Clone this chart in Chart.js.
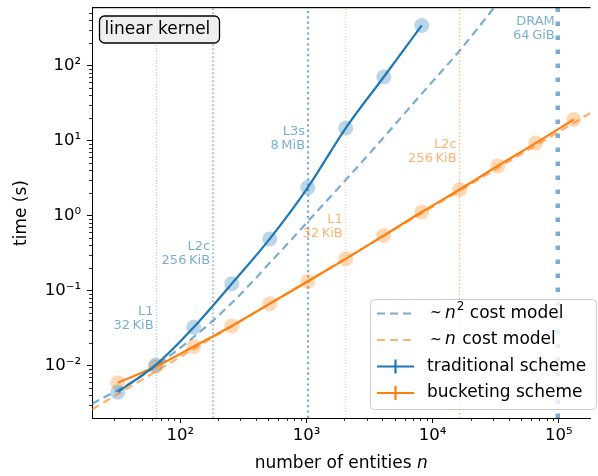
<!DOCTYPE html>
<html>
<head>
<meta charset="utf-8">
<script src="https://cdn.jsdelivr.net/npm/chart.js@4.4.0/dist/chart.umd.min.js"></script>
<style>
  html, body { margin: 0; padding: 0; background: #fff; }
  #wrap { width: 598px; height: 476px; position: relative; }
</style>
</head>
<body>
<div id="wrap"><canvas id="chart"></canvas></div>
<script>
const nTraditional = [32, 64, 128, 256, 512, 1024, 2048, 4096, 8192];
const tTraditional = [0.00443, 0.0102, 0.0324, 0.123, 0.487, 2.35, 14.6, 70, 340];
const nBucketing = [32, 64, 128, 256, 512, 1024, 2048, 4096, 8192, 16384, 32768, 65536, 131072];
const tBucketing = [0.0059, 0.0097, 0.0179, 0.0337, 0.0666, 0.132, 0.264, 0.54, 1.11, 2.22, 4.57, 9.2, 19.0];

// cost models
const nQuadModel = [20, 40, 64, 128, 200, 330, 520, 830, 1024, 2040, 4100, 8200, 16400, 31000];
const tQuadModel = [0.0031, 0.0058, 0.0098, 0.024, 0.046, 0.105, 0.24, 0.56, 0.83, 2.95, 11, 42, 158, 600];
const nLinModel = [20, 180000];
const tLinModel = [0.0026, 23.5];

// memory limits (n where the working set fills the level)
const cacheLevels = ['L1', 'L2c', 'L3s', 'DRAM', 'L1', 'L2c'];
const cacheSizes = ['32\u2009KiB', '256\u2009KiB', '8\u2009MiB', '64\u2009GiB', '32\u2009KiB', '256\u2009KiB'];
const cacheN = [65, 182, 1030, 98000, 2046, 16330];
const cacheLabelT = [0.034, 0.25, 8.4, 250, 0.58, 5.8];
const cacheScheme = ['trad', 'trad', 'trad', 'trad', 'buck', 'buck'];

// axes
const xTicks = [100, 1000, 10000, 100000];
const xTickLabels = ['10²', '10³', '10⁴', '10⁵'];
const yTicks = [0.01, 0.1, 1, 10, 100];
const yTickLabels = ['10⁻²', '10⁻¹', '10⁰', '10¹', '10²'];
const xMin = 20, xMax = 178000, yMin = 0.002, yMax = 590;

const legendLabels = ['cost model', 'cost model', 'traditional scheme', 'bucketing scheme'];

const BLUE = '#1f77b4', ORANGE = '#ff7f0e';
const BLUE_LIGHT = 'rgba(31,119,180,0.6)', ORANGE_LIGHT = 'rgba(255,127,14,0.6)';
const FONT = "'DejaVu Sans', sans-serif";
const TXT = '17px ' + FONT;

const pts = (xs, ys) => xs.map((v, i) => ({x: v, y: ys[i]}));

// vertical memory lines
const lineStyle = {
    trad: [
        {color: 'rgba(31,119,180,0.45)', width: 1, dash: [1, 2]},
        {color: 'rgba(31,119,180,0.6)', width: 1.5, dash: [1.5, 2.5]},
        {color: 'rgba(31,119,180,0.6)', width: 2.2, dash: [2.2, 3.2]},
        {color: 'rgba(31,119,180,0.6)', width: 4.5, dash: [4.5, 9.5]}
    ],
    buck: [
        {color: 'rgba(255,127,14,0.45)', width: 1, dash: [1, 2]},
        {color: 'rgba(255,127,14,0.6)', width: 1.3, dash: [1.3, 2.3]}
    ]
};
const memDatasets = cacheN.map((n, i) => {
    const st = cacheScheme[i] === 'trad' ? lineStyle.trad[i] : lineStyle.buck[i - 4];
    return {
        data: [{x: n, y: yMin}, {x: n, y: yMax}],
        borderColor: st.color, borderWidth: st.width, borderDash: st.dash,
        pointRadius: 0, order: 10
    };
});

const datasets = [
    ...memDatasets,
    {data: pts(nTraditional, tTraditional), showLine: false, pointRadius: 7.5,
     pointBackgroundColor: 'rgba(31,119,180,0.3)', pointBorderWidth: 0, order: 8},
    {data: pts(nBucketing, tBucketing), showLine: false, pointRadius: 7.5,
     pointBackgroundColor: 'rgba(255,127,14,0.3)', pointBorderWidth: 0, order: 8},
    {data: pts(nQuadModel, tQuadModel), borderColor: BLUE_LIGHT, borderWidth: 2.2,
     borderDash: [8, 5], pointRadius: 0, cubicInterpolationMode: 'monotone', order: 6},
    {data: pts(nLinModel, tLinModel), borderColor: ORANGE_LIGHT, borderWidth: 2.2,
     borderDash: [8, 5], pointRadius: 0, order: 6},
    {data: pts(nTraditional, tTraditional), borderColor: BLUE, borderWidth: 2.2,
     pointRadius: 0, cubicInterpolationMode: 'monotone', order: 2},
    {data: pts(nBucketing, tBucketing), borderColor: ORANGE, borderWidth: 2.2,
     pointRadius: 0, cubicInterpolationMode: 'monotone', order: 2}
];

function minorTicks(lo, hi) {
    const out = [];
    for (let e = -4; e <= 6; e++) {
        for (let m = 2; m <= 9; m++) {
            const v = m * Math.pow(10, e);
            if (v > lo && v < hi) out.push(v);
        }
    }
    return out;
}

function roundRect(ctx, x, y, w, h, r) {
    ctx.beginPath();
    ctx.moveTo(x + r, y);
    ctx.arcTo(x + w, y, x + w, y + h, r);
    ctx.arcTo(x + w, y + h, x, y + h, r);
    ctx.arcTo(x, y + h, x, y, r);
    ctx.arcTo(x, y, x + w, y, r);
    ctx.closePath();
}

const overlay = {
    id: 'overlay',
    afterDraw(chart) {
        const {ctx, chartArea: a, scales: {x, y}} = chart;
        ctx.save();

        // minor ticks
        ctx.strokeStyle = '#000';
        ctx.lineWidth = 0.8;
        ctx.beginPath();
        minorTicks(xMin, xMax).forEach(v => {
            const px = Math.round(x.getPixelForValue(v)) + 0.5;
            ctx.moveTo(px, a.bottom); ctx.lineTo(px, a.bottom + 3);
        });
        minorTicks(yMin, yMax).forEach(v => {
            const py = Math.round(y.getPixelForValue(v)) + 0.5;
            ctx.moveTo(a.left, py); ctx.lineTo(a.left - 3, py);
        });
        ctx.stroke();

        // top spine
        ctx.fillStyle = '#000';
        ctx.fillRect(a.left, Math.round(a.top) - 1, a.right - a.left, 1.2);

        // memory labels
        ctx.font = '13px ' + FONT;
        ctx.textAlign = 'right';
        ctx.textBaseline = 'middle';
        cacheN.forEach((n, i) => {
            ctx.fillStyle = cacheScheme[i] === 'trad' ? 'rgba(31,119,180,0.6)' : 'rgba(255,127,14,0.6)';
            const px = x.getPixelForValue(n) - 3;
            const py = y.getPixelForValue(cacheLabelT[i]);
            ctx.fillText(cacheLevels[i], px, py - 14);
            ctx.fillText(cacheSizes[i], px, py);
        });

        // kernel box
        ctx.font = TXT;
        ctx.textAlign = 'left';
        roundRect(ctx, a.left + 7.5, a.top + 8.5, 120, 27, 5);
        ctx.fillStyle = '#efefef';
        ctx.fill();
        ctx.lineWidth = 1.3;
        ctx.strokeStyle = '#000';
        ctx.stroke();
        ctx.fillStyle = '#000';
        ctx.fillText('linear kernel', a.left + 12.5, a.top + 22);

        // legend
        const lx = 370.5, ly = 299.5, lw = 226, lh = 110;
        roundRect(ctx, lx, ly, lw, lh, 4);
        ctx.fillStyle = 'rgba(255,255,255,0.8)';
        ctx.fill();
        ctx.strokeStyle = '#cccccc';
        ctx.lineWidth = 1;
        ctx.stroke();
        const rows = [313.5, 340, 366.5, 393];
        const handles = [
            {c: BLUE_LIGHT, dash: [8, 5], err: false},
            {c: ORANGE_LIGHT, dash: [8, 5], err: false},
            {c: BLUE, dash: [], err: true},
            {c: ORANGE, dash: [], err: true}
        ];
        handles.forEach((h, i) => {
            const ry = rows[i];
            ctx.strokeStyle = h.c;
            ctx.lineWidth = 2.2;
            ctx.setLineDash(h.dash);
            ctx.beginPath();
            ctx.moveTo(377, ry); ctx.lineTo(414, ry);
            ctx.stroke();
            if (h.err) {
                ctx.setLineDash([]);
                ctx.beginPath();
                ctx.moveTo(395.5, ry - 7); ctx.lineTo(395.5, ry + 7);
                ctx.stroke();
            }
        });
        ctx.setLineDash([]);
        ctx.fillStyle = '#000';
        ctx.textBaseline = 'middle';
        // model rows with math n
        [0, 1].forEach(i => {
            const ry = rows[i];
            ctx.font = '14px ' + FONT;
            ctx.fillText('~', 430, ry);
            let cx = 445;
            ctx.font = 'italic ' + TXT;
            ctx.fillText('n', cx, ry);
            cx += ctx.measureText('n').width + 1;
            if (i === 0) {
                ctx.font = '12px ' + FONT;
                ctx.fillText('2', cx, ry - 7);
                cx += ctx.measureText('2').width;
            }
            ctx.font = TXT;
            cx += ctx.measureText(' ').width;
            ctx.fillText(legendLabels[i], cx, ry);
        });
        ctx.font = TXT;
        ctx.fillText(legendLabels[2], 427, rows[2]);
        ctx.fillText(legendLabels[3], 427, rows[3]);

        // axis titles
        const t1 = 'number of entities ';
        ctx.font = 'italic ' + TXT;
        const wn = ctx.measureText('n').width;
        ctx.font = TXT;
        const w1 = ctx.measureText(t1).width;
        const sx = (a.left + a.right) / 2 - (w1 + wn) / 2;
        ctx.fillText(t1, sx, 464);
        ctx.font = 'italic ' + TXT;
        ctx.fillText('n', sx + w1, 464);

        ctx.font = TXT;
        ctx.translate(22, 213);
        ctx.rotate(-Math.PI / 2);
        ctx.textAlign = 'center';
        ctx.fillText('time (s)', 0, 0);
        ctx.restore();
    }
};

new Chart(document.getElementById('chart'), {
    type: 'line',
    data: {datasets: datasets},
    options: {
        responsive: true,
        maintainAspectRatio: false,
        animation: false,
        layout: {padding: {top: 7, right: 0, left: 0, bottom: 0}},
        plugins: {legend: {display: false}, tooltip: {enabled: false}},
        elements: {line: {tension: 0}},
        scales: {
            x: {
                type: 'logarithmic', min: xMin, max: xMax,
                afterBuildTicks: s => { s.ticks = xTicks.map(v => ({value: v})); },
                afterFit: s => { s.height = 58; s.paddingLeft = 0; s.paddingRight = 0; },
                ticks: {
                    callback: (v, i) => xTickLabels[i],
                    color: '#000', font: {family: FONT, size: 16.5}, padding: 3,
                    maxRotation: 0, autoSkip: false
                },
                grid: {drawOnChartArea: false, tickLength: 5, color: '#000', lineWidth: 1},
                border: {color: '#000', width: 1}
            },
            y: {
                type: 'logarithmic', min: yMin, max: yMax,
                afterBuildTicks: s => { s.ticks = yTicks.map(v => ({value: v})); },
                afterFit: s => { s.width = 92; s.paddingTop = 0; s.paddingBottom = 0; },
                ticks: {
                    callback: (v, i) => yTickLabels[i],
                    color: '#000', font: {family: FONT, size: 16.5}, padding: 6,
                    autoSkip: false
                },
                grid: {drawOnChartArea: false, tickLength: 5, color: '#000', lineWidth: 1},
                border: {color: '#000', width: 1}
            }
        }
    },
    plugins: [overlay]
});
</script>
</body>
</html>
